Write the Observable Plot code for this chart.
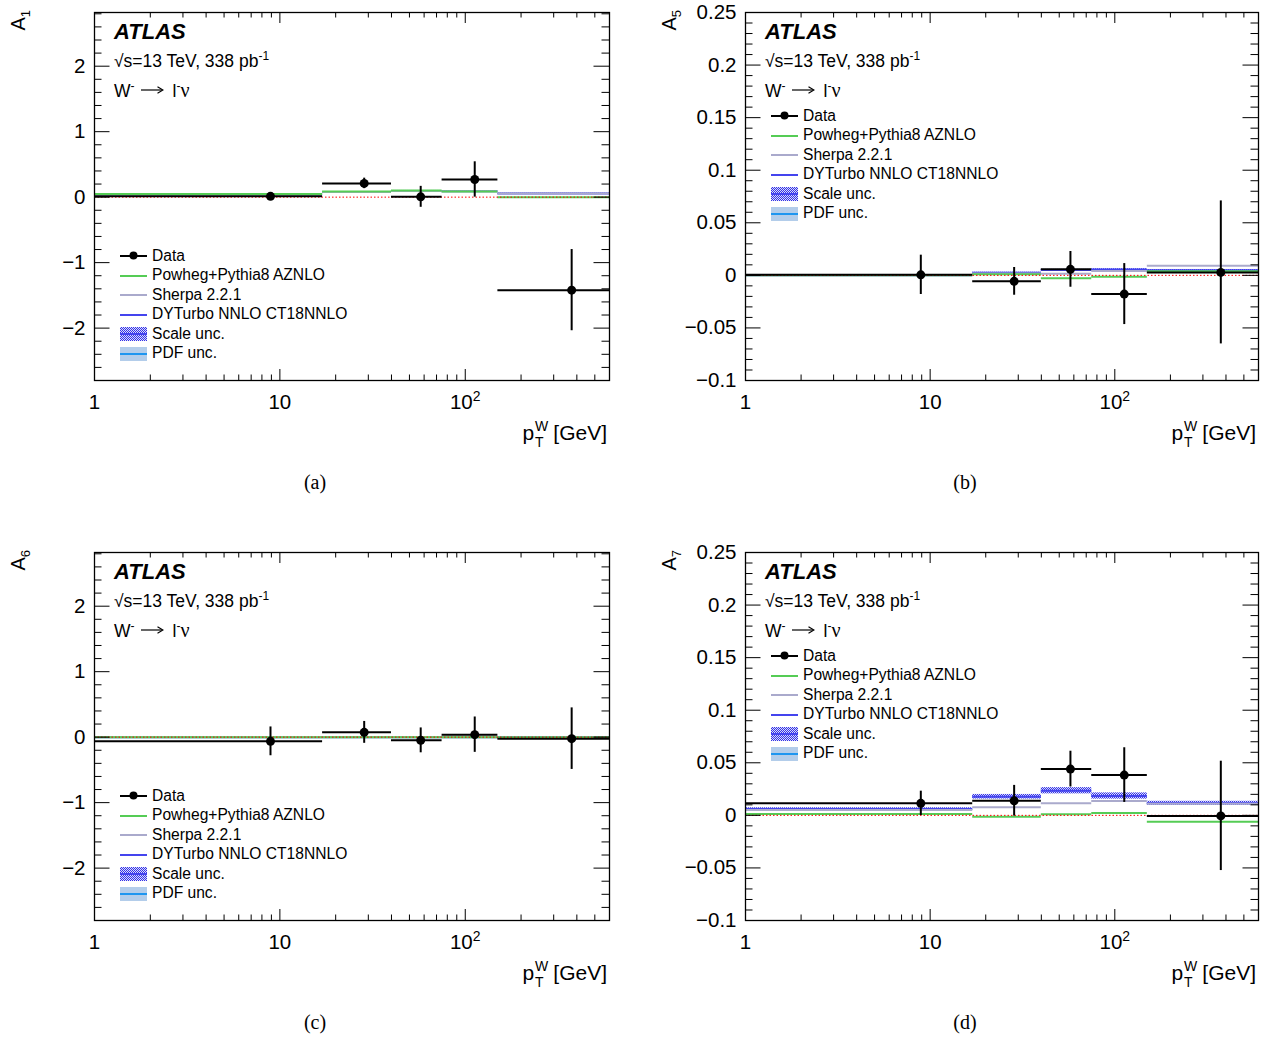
<!DOCTYPE html>
<html>
<head>
<meta charset="utf-8">
<script src="https://cdn.jsdelivr.net/npm/d3@7"></script>
<script src="https://cdn.jsdelivr.net/npm/@observablehq/plot@0.6"></script>
<style>
  body { margin: 0; background: #fff; font-family: "Liberation Sans", Arial, sans-serif; }
  #page { position: relative; width: 1266px; height: 1037px; overflow: hidden; background: #fff; }
  .panel { position: absolute; width: 633px; height: 540px; }
  .panel > svg { position: absolute; left: 0; top: 0; overflow: visible; }
  .txt { position: absolute; white-space: nowrap; color: #000; }
  .atlas { font-weight: bold; font-style: italic; font-size: 22px; line-height: 22px; }
  .info { font-size: 17.5px; line-height: 18px; }
  .info sup { font-size: 12px; vertical-align: 7px; line-height: 0; }
  .info svg { vertical-align: 1px; margin: 0 9px 0 5px; }
  .nu { font-family: "Liberation Serif", "Times New Roman", serif; font-size: 20px; }
  .leg { position: absolute; font-size: 15.6px; }
  .leg .row { height: 19px; display: flex; align-items: center; }
  .leg .row:nth-child(even) { height: 20px; }
  .leg .row svg { flex: none; margin-right: 5px; shape-rendering: crispEdges; }
  .xlab { font-size: 21px; line-height: 21px; }
  .ss { display: inline-block; vertical-align: -7px; font-size: 14px; line-height: 16px; margin: 0 5px 0 1px; }
  .ss span { display: block; }
  .cap { font-family: "Liberation Serif", "Times New Roman", serif; font-size: 20px; line-height: 20px; transform: translateX(-50%); }
</style>
</head>
<body>
<svg width="0" height="0" style="position:absolute">
  <defs>
    <pattern id="scaleHatch" width="2" height="2" patternUnits="userSpaceOnUse">
      <rect width="2" height="2" fill="#dcdcfa"/>
      <rect x="0" y="0" width="1" height="1" fill="#3434e8"/>
      <rect x="1" y="1" width="1" height="1" fill="#3434e8"/>
    </pattern>
  </defs>
</svg>
<div id="page"></div>
<script>
// ---------- bins (pT^W in GeV) ----------
const binLo  = [1, 17, 40, 75, 150];
const binHi  = [17, 40, 75, 150, 600];
const binMid = [8.9, 28.5, 57.5, 112.5, 375];

// ---------- tick labels ----------
const xMajor = [1, 10, 100];
const xMajorLabels = ["1", "10", "10²"];
const yMajorWide = [-2, -1, 0, 1, 2];
const yMajorNarrow = [-0.1, -0.05, 0, 0.05, 0.1, 0.15, 0.2, 0.25];

// ---------- A1 ----------
const a1Data    = [0.012, 0.21, 0.005, 0.27, -1.42];
const a1Err     = [0.04, 0.08, 0.16, 0.27, 0.62];
const a1Powheg  = [0.05, 0.085, 0.1, 0.085, 0.0];
const a1Sherpa  = [0.045, 0.08, 0.095, 0.09, 0.055];
const a1DYTurbo = [0.045, 0.08, 0.095, 0.09, 0.055];
const a1Scale   = [0.004, 0.006, 0.007, 0.007, 0.006];
const a1Pdf     = [0.002, 0.003, 0.003, 0.003, 0.003];

// ---------- A5 ----------
const a5Data    = [0.0005, -0.0057, 0.0057, -0.0178, 0.0028];
const a5Err     = [0.0187, 0.0132, 0.017, 0.029, 0.068];
const a5Powheg  = [0.0, 0.001, -0.0027, -0.0013, 0.004];
const a5Sherpa  = [0.0, 0.0018, 0.0016, 0.0042, 0.0091];
const a5DYTurbo = [0.0, 0.0025, 0.005, 0.0055, 0.0048];
const a5Scale   = [0.0003, 0.0005, 0.0007, 0.0008, 0.0008];
const a5Pdf     = [0.0002, 0.0003, 0.0004, 0.0004, 0.0004];

// ---------- A6 ----------
const a6Data    = [-0.064, 0.073, -0.049, 0.038, -0.023];
const a6Err     = [0.22, 0.167, 0.19, 0.27, 0.47];
const a6Powheg  = [0.0, 0.0, 0.0, 0.0, 0.0];
const a6Sherpa  = [0.004, 0.004, 0.003, 0.006, -0.012];
const a6DYTurbo = [0.0, 0.0, 0.0, 0.0, 0.0];
const a6Scale   = [0.002, 0.002, 0.002, 0.002, 0.002];
const a6Pdf     = [0.001, 0.001, 0.001, 0.001, 0.001];

// ---------- A7 ----------
const a7Data    = [0.0114, 0.0139, 0.044, 0.0383, -0.0005];
const a7Err     = [0.0116, 0.0146, 0.017, 0.026, 0.052];
const a7Powheg  = [0.0012, -0.0013, 0.001, 0.0022, -0.006];
const a7Sherpa  = [0.005, 0.0076, 0.0114, 0.0136, 0.011];
const a7DYTurbo = [0.006, 0.0177, 0.0234, 0.0184, 0.0114];
const a7Scale   = [0.0012, 0.0022, 0.003, 0.003, 0.002];
const a7Pdf     = [0.0008, 0.0012, 0.0015, 0.0015, 0.0014];

// ---------- styles ----------
const colPowheg = "#55cc55";
const colSherpa = "#aaaacc";
const colDY = "#4444ee";
const colPdfFill = "#b3cdea";
const colPdfLine = "#1e96f0";

const page = document.getElementById("page");
const W = 633, H = 470, mT = 12, plotH = 368;
const fmtY = d => (d < 0 ? "−" : "") + String(+Math.abs(d).toFixed(3));

const panels = [
  {key: "a", sub: "1", left: 0,   top: 0,   mL: 94,  mR: 24, wide: true,  legTop: 246,
   data: a1Data, err: a1Err, pw: a1Powheg, sh: a1Sherpa, dy: a1DYTurbo, sc: a1Scale, pdf: a1Pdf, capX: 315},
  {key: "b", sub: "5", left: 633, top: 0,   mL: 112, mR: 8,  wide: false, legTop: 106,
   data: a5Data, err: a5Err, pw: a5Powheg, sh: a5Sherpa, dy: a5DYTurbo, sc: a5Scale, pdf: a5Pdf, capX: 332},
  {key: "c", sub: "6", left: 0,   top: 540, mL: 94,  mR: 24, wide: true,  legTop: 246,
   data: a6Data, err: a6Err, pw: a6Powheg, sh: a6Sherpa, dy: a6DYTurbo, sc: a6Scale, pdf: a6Pdf, capX: 315},
  {key: "d", sub: "7", left: 633, top: 540, mL: 112, mR: 8,  wide: false, legTop: 106,
   data: a7Data, err: a7Err, pw: a7Powheg, sh: a7Sherpa, dy: a7DYTurbo, sc: a7Scale, pdf: a7Pdf, capX: 332}
];

const xMinor = [2,3,4,5,6,7,8,9,20,30,40,50,60,70,80,90,200,300,400,500];
const arrowSvg = `<svg width="24" height="12"><line x1="1" y1="6" x2="22" y2="6" stroke="black" stroke-width="1.2"/><path d="M17.5,2.8 L23,6 L17.5,9.2" fill="none" stroke="black" stroke-width="1.2"/></svg>`;

for (const p of panels) {
  const plotW = W - p.mL - p.mR;
  const rows = binLo.map((lo, i) => ({
    lo, hi: binHi[i], mid: binMid[i],
    d: p.data[i], e: p.err[i], pw: p.pw[i], sh: p.sh[i], dy: p.dy[i], sc: p.sc[i], pdf: p.pdf[i]
  }));
  const yDomain = p.wide ? [-2.8, 2.82] : [-0.1, 0.25];
  const yMajor = p.wide ? yMajorWide : yMajorNarrow;
  const yMinor = p.wide
    ? d3.range(-28, 29, 2).map(v => v / 10).filter(v => Math.abs(v - Math.round(v)) > 1e-6)
    : d3.range(-10, 26, 1).map(v => v / 100).filter(v => Math.abs(v * 20 - Math.round(v * 20)) > 1e-6);

  const chart = Plot.plot({
    width: W, height: H,
    marginLeft: p.mL, marginRight: p.mR, marginTop: mT, marginBottom: H - mT - plotH,
    x: {type: "log", domain: [1, 600], label: null},
    y: {domain: yDomain, label: null},
    style: {fontFamily: "'Liberation Sans', Arial, sans-serif", background: "transparent", color: "black"},
    marks: [
      Plot.rect(rows, {x1: "lo", x2: "hi", y1: d => d.dy - d.pdf, y2: d => d.dy + d.pdf, fill: colPdfFill}),
      Plot.rect(rows, {x1: "lo", x2: "hi", y1: d => d.dy - d.sc, y2: d => d.dy + d.sc, fill: "url(#scaleHatch)"}),
      Plot.ruleY(rows, {y: "dy", x1: "lo", x2: "hi", stroke: colDY, strokeWidth: 2}),
      Plot.ruleY(rows, {y: "sh", x1: "lo", x2: "hi", stroke: colSherpa, strokeWidth: 2}),
      Plot.ruleY(rows, {y: "pw", x1: "lo", x2: "hi", stroke: colPowheg, strokeWidth: 2}),
      Plot.ruleY([0], {stroke: "#ff0000", strokeWidth: 1, strokeDasharray: "1.5,2"}),
      Plot.ruleY(rows, {y: "d", x1: "lo", x2: "hi", stroke: "black", strokeWidth: 2}),
      Plot.ruleX(rows, {x: "mid", y1: d => d.d - d.e, y2: d => d.d + d.e, stroke: "black", strokeWidth: 2}),
      Plot.dot(rows, {x: "mid", y: "d", r: 4.5, fill: "black"}),
      // inward ticks, ROOT style (all four sides)
      Plot.tickY(yMajor, {y: d => d, insetRight: plotW - 15.5, stroke: "black"}),
      Plot.tickY(yMajor, {y: d => d, insetLeft: plotW - 15.5, stroke: "black"}),
      Plot.tickY(yMinor, {y: d => d, insetRight: plotW - 7.5, stroke: "black"}),
      Plot.tickY(yMinor, {y: d => d, insetLeft: plotW - 7.5, stroke: "black"}),
      Plot.tickX(xMajor, {x: d => d, insetTop: plotH - 11, stroke: "black"}),
      Plot.tickX(xMajor, {x: d => d, insetBottom: plotH - 11, stroke: "black"}),
      Plot.tickX(xMinor, {x: d => d, insetTop: plotH - 5.5, stroke: "black"}),
      Plot.tickX(xMinor, {x: d => d, insetBottom: plotH - 5.5, stroke: "black"}),
      Plot.axisY(yMajor, {tickSize: 0, tickPadding: 9, fontSize: 20.5, tickFormat: fmtY, label: null}),
      Plot.axisX(xMajor, {tickSize: 0, tickPadding: 14, fontSize: 20.5,
        tickFormat: d => xMajorLabels[xMajor.indexOf(d)], label: null}),
      Plot.frame({stroke: "black", strokeWidth: 1.3})
    ]
  });

  const svg = d3.select(chart);
  // render the "10²" label with a real superscript
  svg.selectAll("text").filter(function() { return this.textContent === "10²"; })
    .each(function() {
      const t = d3.select(this);
      t.text("10");
      t.append("tspan").attr("dy", "-0.55em").attr("font-size", "0.68em").text("2");
    });

  // y-axis title (rotated), A with subscript
  const yt = svg.append("text")
    .attr("transform", `translate(${p.mL - 69},10) rotate(-90)`)
    .attr("text-anchor", "end")
    .attr("font-size", 20)
    .attr("font-family", "'Liberation Sans', Arial, sans-serif")
    .attr("fill", "black");
  yt.append("tspan").text("A");
  yt.append("tspan").attr("font-size", 13).attr("dy", 5).text(p.sub);

  const panel = document.createElement("div");
  panel.className = "panel";
  panel.style.left = p.left + "px";
  panel.style.top = p.top + "px";
  panel.appendChild(chart);

  const fx = p.mL + 20;
  panel.insertAdjacentHTML("beforeend", `
    <div class="txt atlas" style="left:${fx}px;top:21px">ATLAS</div>
    <div class="txt info" style="left:${fx}px;top:52px">√s=13 TeV, 338 pb<sup>-1</sup></div>
    <div class="txt info" style="left:${fx}px;top:81px">W<sup>-</sup>${arrowSvg}l<sup>-</sup><span class="nu">ν</span></div>
    <div class="leg" style="left:${p.mL + 26}px;top:${p.legTop}px">
      <div class="row"><svg width="27" height="19"><line x1="0" x2="27" y1="9.5" y2="9.5" stroke="black" stroke-width="2"/><circle cx="13.5" cy="9.5" r="4" fill="black" shape-rendering="auto"/></svg><span>Data</span></div>
      <div class="row"><svg width="27" height="19"><line x1="0" x2="27" y1="9.5" y2="9.5" stroke="${colPowheg}" stroke-width="2"/></svg><span>Powheg+Pythia8 AZNLO</span></div>
      <div class="row"><svg width="27" height="19"><line x1="0" x2="27" y1="9.5" y2="9.5" stroke="${colSherpa}" stroke-width="2"/></svg><span>Sherpa 2.2.1</span></div>
      <div class="row"><svg width="27" height="19"><line x1="0" x2="27" y1="9.5" y2="9.5" stroke="${colDY}" stroke-width="2"/></svg><span>DYTurbo NNLO CT18NNLO</span></div>
      <div class="row"><svg width="27" height="19"><rect x="0" y="3" width="27" height="14" fill="url(#scaleHatch)"/><line x1="0" x2="27" y1="10" y2="10" stroke="${colDY}" stroke-width="2"/></svg><span>Scale unc.</span></div>
      <div class="row"><svg width="27" height="19"><rect x="0" y="2.5" width="27" height="14" fill="${colPdfFill}"/><line x1="0" x2="27" y1="9.5" y2="9.5" stroke="${colPdfLine}" stroke-width="2"/></svg><span>PDF unc.</span></div>
    </div>
    <div class="txt xlab" style="right:${p.mR + 2}px;top:418px">p<span class="ss"><span>W</span><span>T</span></span>[GeV]</div>
    <div class="txt cap" style="left:${p.capX}px;top:472px">(${p.key})</div>
  `);
  page.appendChild(panel);
}
</script>
</body>
</html>
